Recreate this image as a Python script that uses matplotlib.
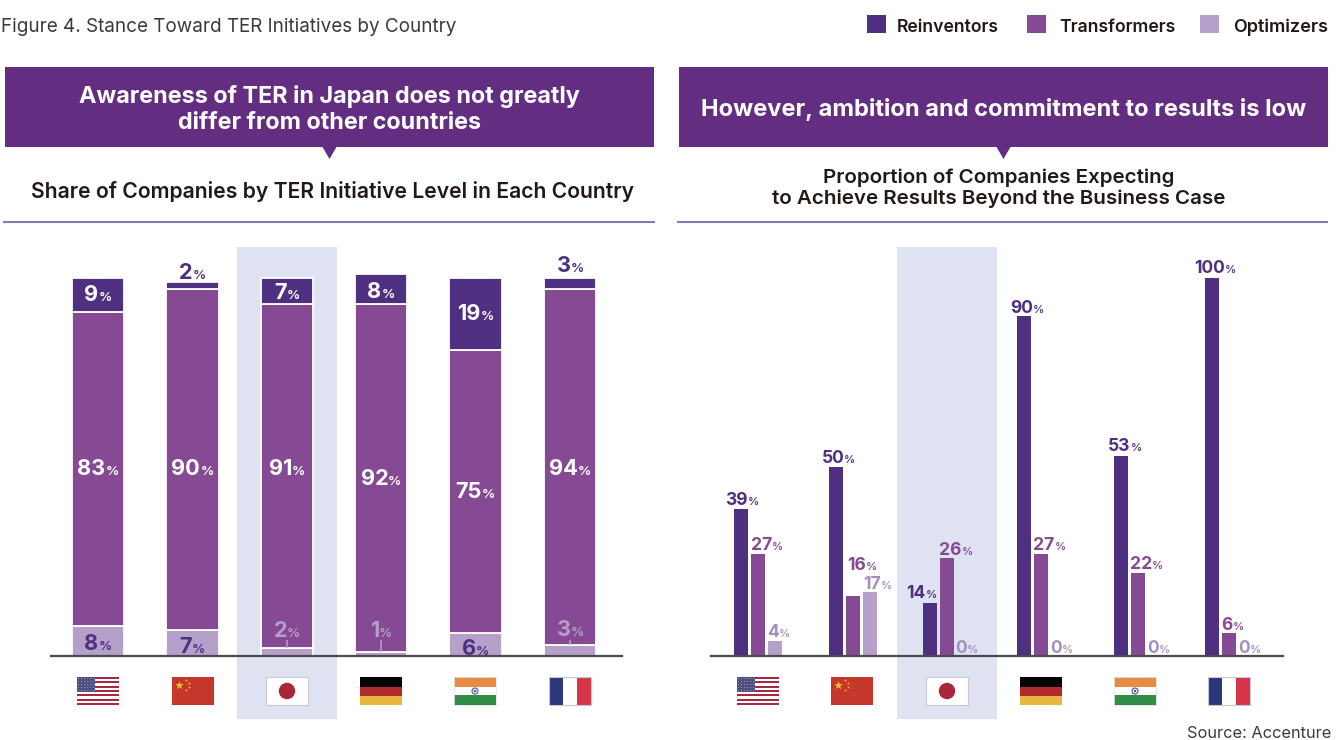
import matplotlib
matplotlib.use("Agg")
import matplotlib.pyplot as plt
from matplotlib.patches import Rectangle, Polygon, Circle

countries = ["United States", "China", "Japan", "Germany", "India", "France"]
series = ["Reinventors", "Transformers", "Optimizers"]

# Share of companies by initiative level (percent)
share_reinventors = [9, 2, 7, 8, 19, 3]
share_transformers = [83, 90, 91, 92, 75, 94]
share_optimizers = [8, 7, 2, 1, 6, 3]

# Companies expecting results beyond the business case (percent)
beyond_reinventors = [39, 50, 14, 90, 53, 100]
beyond_transformers = [27, 16, 26, 27, 22, 6]
beyond_optimizers = [4, 17, 0, 0, 0, 0]

DEEP, MID, PALE = "#4E2F80", "#854A93", "#B5A0C9"
PALE_TEXT = "#A28FC0"
HEADER = "#632E82"
BAND = "#DFE2F1"
RULE = "#6A4C9C"
W, H = 1344, 740
FONT = "Inter"

fig = plt.figure(figsize=(W / 100, H / 100), dpi=100, facecolor="white")
plt.rcParams["font.family"] = [FONT, "DejaVu Sans"]


def px_axes(x0, x1, y_top, y_base):
    return fig.add_axes([x0 / W, 1 - y_base / H, (x1 - x0) / W, (y_base - y_top) / H])


# Background layer in pixel coordinates
bg = fig.add_axes([0, 0, 1, 1], zorder=0)
bg.set_xlim(0, W)
bg.set_ylim(H, 0)
bg.axis("off")

# Chart layers: 378 px spans 100 percent, baseline at y=656
left = px_axes(51, 622, 278, 656)
right = px_axes(711, 1283, 278, 656)
for ax in (left, right):
    ax.set_zorder(1)
    ax.patch.set_alpha(0)
    ax.set_ylim(0, 100)
    ax.set_yticks([])
    ax.set_xticks([])
    ax.set_clip_on(False)
    for name, sp in ax.spines.items():
        sp.set_visible(name == "bottom")
    ax.spines["bottom"].set_color("#4A4A4F")
    ax.spines["bottom"].set_linewidth(1.6)
    ax.spines["bottom"].set_zorder(5)

# Top layer for text, in pixel coordinates
top = fig.add_axes([0, 0, 1, 1], zorder=2)
top.set_xlim(0, W)
top.set_ylim(H, 0)
top.axis("off")

# Stacked bars
left.set_xlim(51, 622)
xs = list(range(6))
bar_px = [98, 192.5, 287, 381, 475.5, 570]
bottoms = [0] * 6
for vals, col in ((share_optimizers, PALE), (share_transformers, MID), (share_reinventors, DEEP)):
    left.bar(bar_px, vals, 52.5, bottom=bottoms, color=col, edgecolor="white", linewidth=1.3, clip_on=False)
    bottoms = [b + v for b, v in zip(bottoms, vals)]

# Grouped bars
right.set_xlim(711, 1283)
group_px = [758, 853, 947, 1041, 1138, 1229]
for off, vals, col in ((-17, beyond_reinventors, DEEP), (0, beyond_transformers, MID), (17, beyond_optimizers, PALE)):
    right.bar([x + off for x in group_px], vals, 14, color=col, linewidth=0, clip_on=False)

renderer = fig.canvas.get_renderer()


def value_label(cx, cy, value, color, size, pct_size):
    """Number with a smaller percent sign, centred on (cx, cy) in pixels."""
    base = cy + 0.365 * size / 0.72
    a = top.text(cx, base, str(value), color=color, fontsize=size, fontweight="bold", ha="left", va="baseline")
    b = top.text(cx, base, "%", color=color, fontsize=pct_size, fontweight="semibold", ha="left", va="baseline")
    wa = a.get_window_extent(renderer).width
    wb = b.get_window_extent(renderer).width
    start = cx - (wa + wb) / 2
    a.set_x(start)
    b.set_x(start + wa)


# Labels on the stacked bars
reinv_y = [293, 271, 291, 290, 312, 264]
reinv_col = ["white", DEEP, "white", "white", "white", DEEP]
trans_y = [467, 467, 467, 477, 490, 467]
opt_y = [642, 645, 629, 629, 647, 628]
opt_col = [DEEP, DEEP, PALE, PALE, DEEP, PALE]
for i in xs:
    value_label(bar_px[i], reinv_y[i], share_reinventors[i], reinv_col[i], 15.6, 9.6)
    value_label(bar_px[i], trans_y[i], share_transformers[i], "white", 15.6, 9.6)
    value_label(bar_px[i], opt_y[i], share_optimizers[i], opt_col[i], 15.6, 9.6)
    if opt_col[i] == PALE:
        tip = 656 - share_optimizers[i] * 3.78
        top.plot([bar_px[i]] * 2, [640, tip], color=PALE, lw=1.2, solid_capstyle="butt")

# Labels on the grouped bars
group_series = (
    (beyond_reinventors, DEEP,
     [742.5, 838.5, 921.5, 1027, 1125, 1215], [499, 457, 592, 307, 445, 267]),
    (beyond_transformers, MID,
     [767, 862, 956, 1049.5, 1146.5, 1232.5], [544, 564, 549, 544, 563, 624]),
    (beyond_optimizers, PALE_TEXT,
     [778.5, 877.5, 967, 1062, 1159, 1250], [631, 583, 647, 647, 647, 647]),
)
for vals, col, lx, ly in group_series:
    for i in xs:
        value_label(lx[i], ly[i], vals[i], col, 12.6, 8)

# Highlight bands behind Japan
for x0 in (237, 897):
    bg.add_patch(Rectangle((x0, 247), 100, 472, color=BAND, lw=0))

# Header banners with pointers
banners = (
    (5, 654, 16.8, (("Awareness of TER in Japan does not greatly", 96), ("differ from other countries", 123))),
    (679, 1328, 17.05, (("However, ambition and commitment to results is low", 109.5),)),
)
for x0, x1, fs, lines in banners:
    mid = (x0 + x1) / 2
    bg.add_patch(Rectangle((x0, 67), x1 - x0, 80, color=HEADER, lw=0))
    bg.add_patch(Polygon([(mid - 7, 147), (mid + 7, 147), (mid, 159)], color=HEADER, lw=0))
    for msg, ly in lines:
        top.text(mid, ly, msg, color="white", fontsize=fs, fontweight="bold", ha="center", va="center")

# Sub-headings and rules
top.text(332.5, 191, "Share of Companies by TER Initiative Level in Each Country",
         color="#221815", fontsize=15.2, fontweight="semibold", ha="center", va="center")
for msg, ly in (("Proportion of Companies Expecting", 177.5), ("to Achieve Results Beyond the Business Case", 199)):
    top.text(998.5, ly, msg, color="#221815", fontsize=14.8, fontweight="semibold", ha="center", va="center")
for x0, x1 in ((3, 655), (677, 1328)):
    bg.plot([x0, x1], [222, 222], color=RULE, lw=1.1, solid_capstyle="butt")

# Title, legend and source
top.text(1, 27, "Figure 4. Stance Toward TER Initiatives by Country", color="#3A3A3C",
         fontsize=13.6, ha="left", va="center")
top.text(1331, 733.5, "Source: Accenture", color="#3A3A3C", fontsize=11.8, ha="right", va="center")
legend_text_x = [897, 1059, 1233]
legend_size = [12.7, 12.7, 13.0]
for x0, name, col, tx, fs in zip((867, 1027, 1200), series, (DEEP, MID, PALE), legend_text_x, legend_size):
    top.add_patch(Rectangle((x0, 15), 19, 18, color=col, lw=0))
    top.text(tx, 27, name, color="#221815", fontsize=fs, fontweight="semibold", ha="left", va="center")


# Flags
def flag(name, x, y=677, w=42, h=28):
    box = lambda fx, fy, fw, fh, c: bg.add_patch(Rectangle((x + fx * w, y + fy * h), fw * w, fh * h, color=c, lw=0, zorder=3))
    if name == "United States":
        box(0, 0, 1, 1, "white")
        for s in range(0, 13, 2):
            box(0, s / 13, 1, 1 / 13, "#A5283C")
        box(0, 0, 0.44, 7 / 13, "#4C4F80")
        for r in range(5):
            for c in range(6):
                bg.add_patch(Circle((x + (c + 0.5) * 0.44 * w / 6, y + (r + 0.5) * (7 / 13) * h / 5), 0.45,
                                    color="#C9CBDD", lw=0, zorder=4))
    elif name == "China":
        box(0, 0, 1, 1, "#C5372A")
        bg.scatter([x + 6.5], [y + 7.5], s=42, marker="*", color="#F2C230", lw=0, zorder=4)
        bg.scatter([x + dx for dx in (13.5, 16.5, 16.5, 13.5)], [y + dy for dy in (3, 6, 10, 13)],
                   s=5, marker="*", color="#F2C230", lw=0, zorder=4)
    elif name == "Japan":
        bg.add_patch(Rectangle((x, y), w, h, facecolor="white", edgecolor="#C6C8D2", lw=0.8, zorder=3))
        bg.add_patch(Circle((x + w / 2, y + h / 2), 8.2, color="#A8273A", lw=0, zorder=4))
    elif name == "Germany":
        box(0, 0, 1, 0.36, "#050505")
        box(0, 0.36, 1, 0.32, "#B12A2D")
        box(0, 0.68, 1, 0.32, "#E8B83E")
    elif name == "India":
        box(0, 0, 1, 0.36, "#E98A47")
        box(0, 0.36, 1, 0.28, "white")
        box(0, 0.64, 1, 0.36, "#308D46")
        bg.add_patch(Rectangle((x, y), w, h, fill=False, edgecolor="#E4E4E8", lw=0.6, zorder=3))
        bg.add_patch(Circle((x + w / 2, y + h / 2), 3, facecolor="#E2E2EC", edgecolor="#5E6A9C", lw=0.9, zorder=4))
        bg.add_patch(Circle((x + w / 2, y + h / 2), 1, color="#2F3B78", lw=0, zorder=5))
    elif name == "France":
        box(0, 0, 1, 1, "white")
        box(0, 0, 0.34, 1, "#2A387B")
        box(0.67, 0, 0.33, 1, "#D43547")
        bg.add_patch(Rectangle((x, y), w, h, fill=False, edgecolor="#C6C8D2", lw=0.8, zorder=4))


for cx_list in ((98, 193, 287, 381, 475, 570), (758, 852, 947, 1041, 1135, 1229)):
    for cname, cx in zip(countries, cx_list):
        flag(cname, cx - 21)

fig.savefig("out.png", dpi=100)
